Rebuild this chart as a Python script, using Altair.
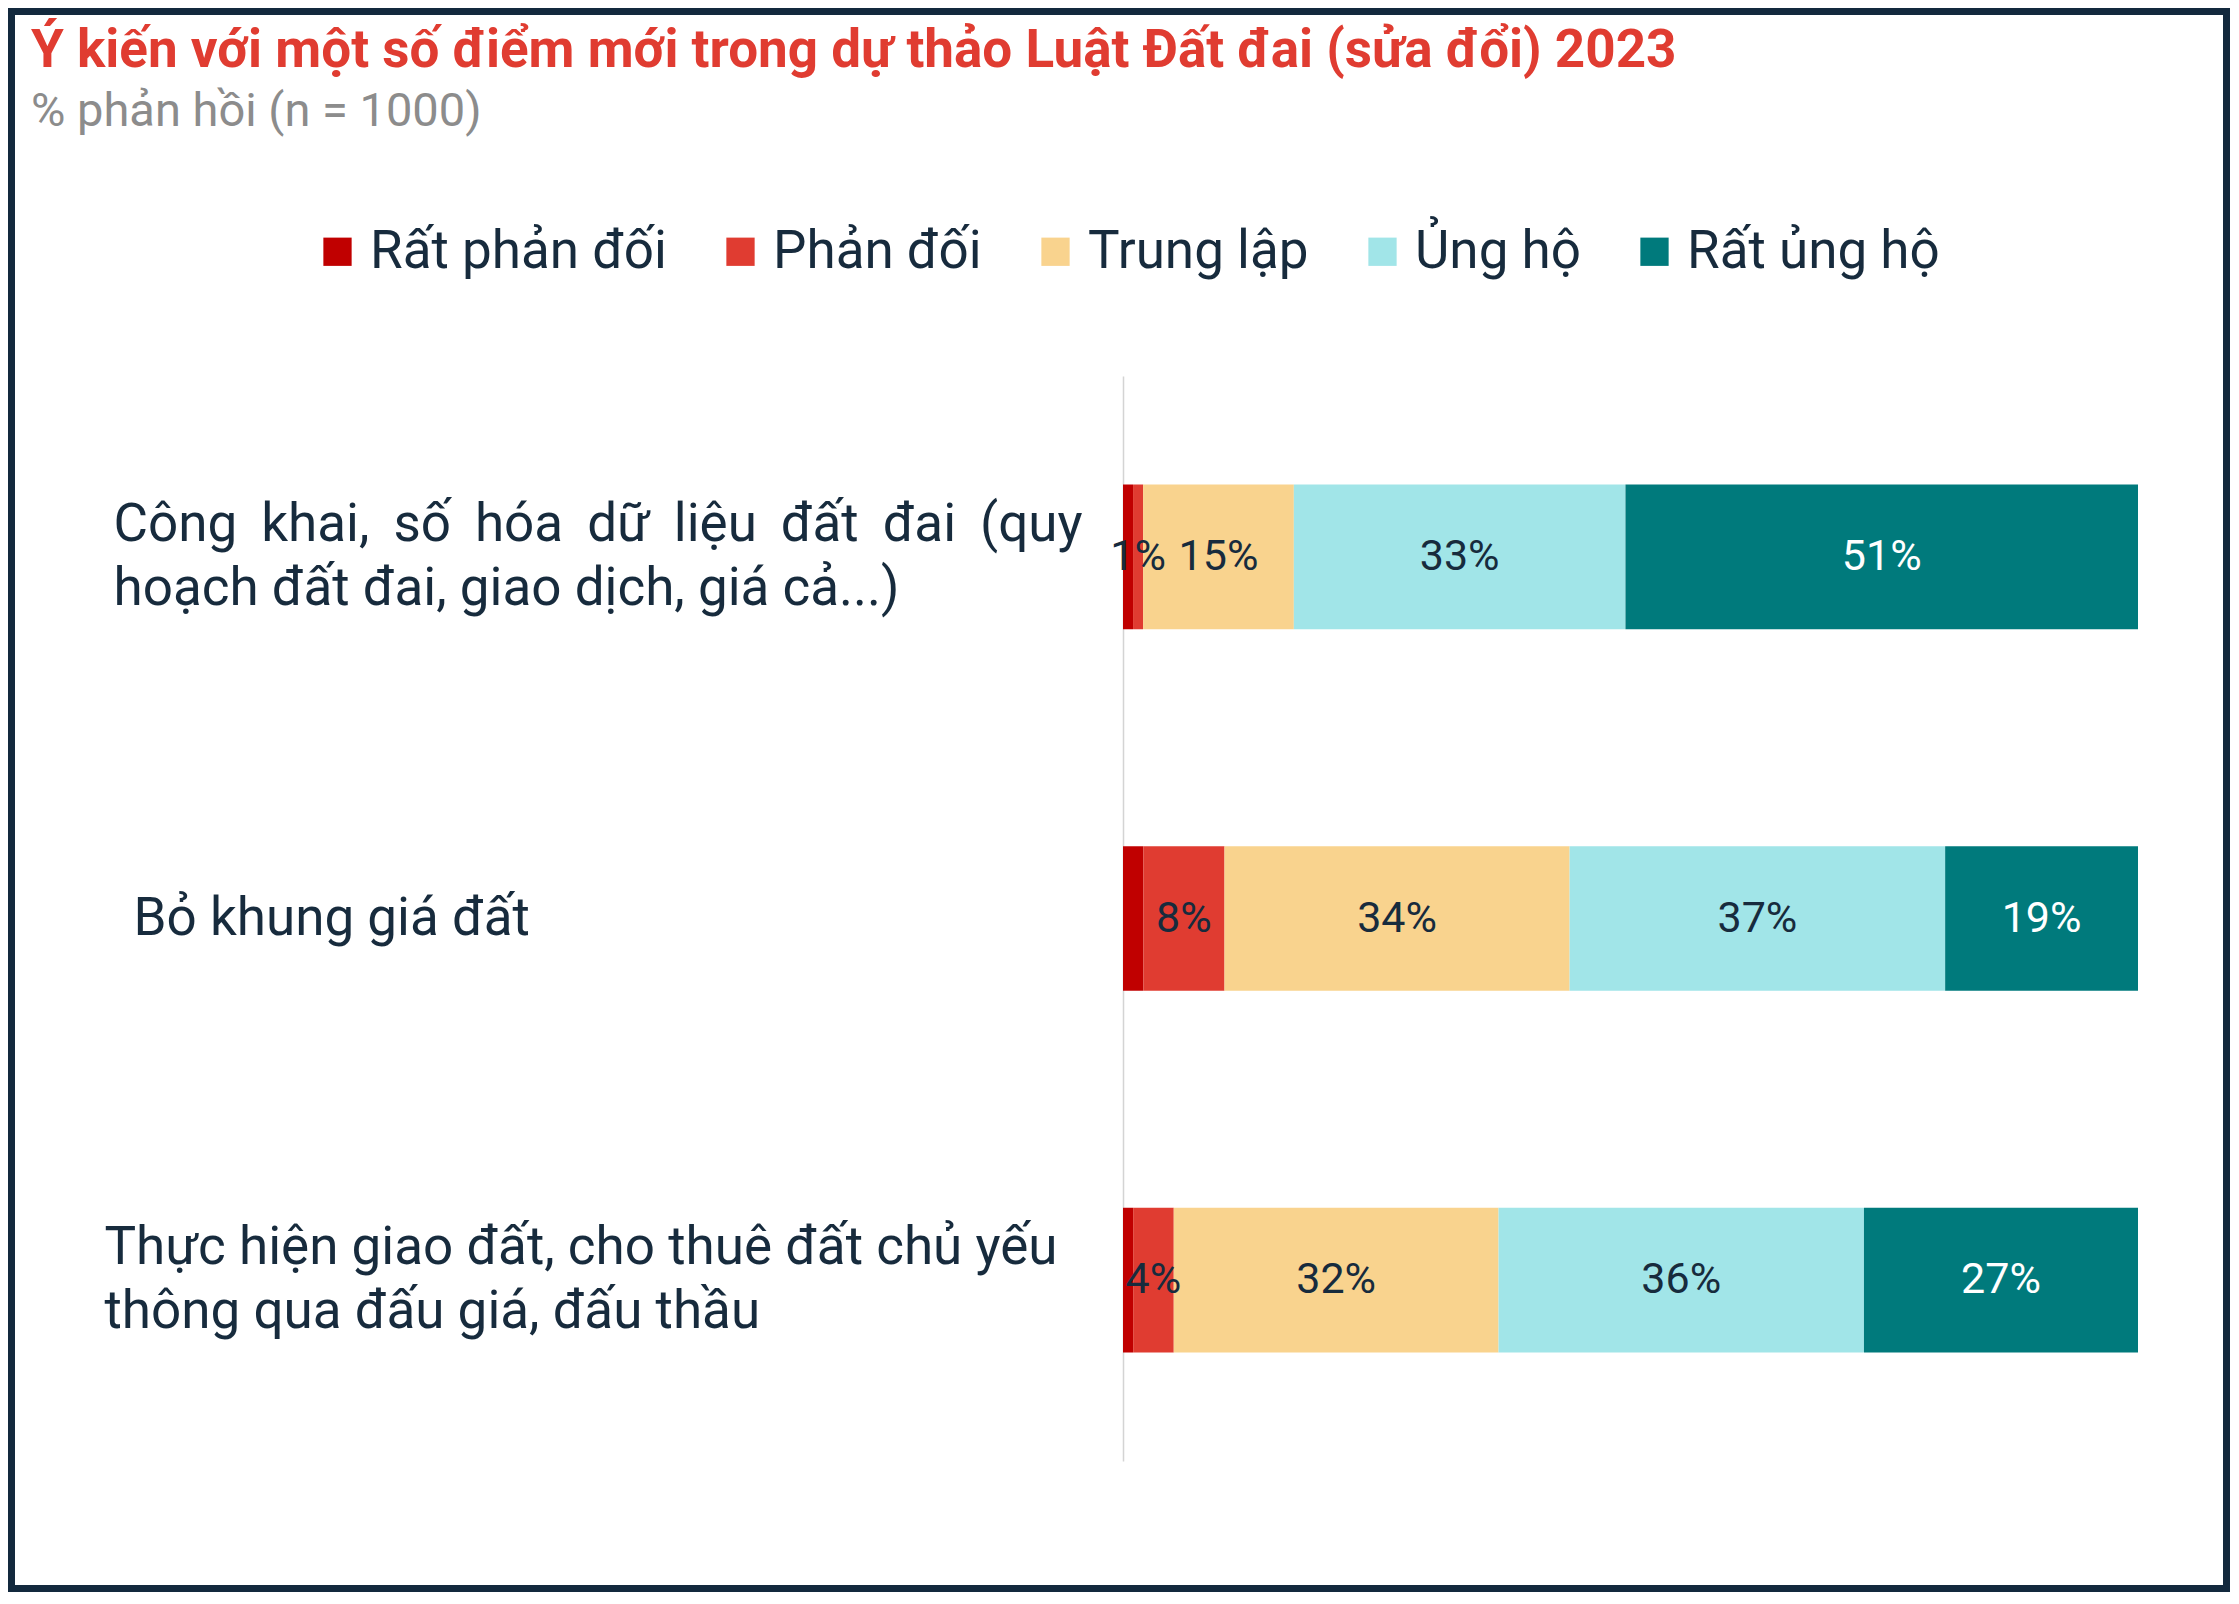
import altair as alt
import pandas as pd

# ---- data ----
items = [
    "Công khai, số hóa dữ liệu đất đai (quy\nhoạch đất đai, giao dịch, giá cả...)",
    "Bỏ khung giá đất",
    "Thực hiện giao đất, cho thuê đất chủ yếu\nthông qua đấu giá, đấu thầu",
]
series = ["Rất phản đối", "Phản đối", "Trung lập", "Ủng hộ", "Rất ủng hộ"]
rat_phan_doi = [1, 2, 1]
phan_doi = [1, 8, 4]
trung_lap = [15, 34, 32]
ung_ho = [33, 37, 36]
rat_ung_ho = [51, 19, 27]
colors = ["#c00000", "#e03c31", "#f9d38e", "#a1e5e8", "#007a7c"]

values = [rat_phan_doi, phan_doi, trung_lap, ung_ho, rat_ung_ho]
rows = []
for si, (s, vals) in enumerate(zip(series, values)):
    for it, v in zip(items, vals):
        rows.append({"item": it, "series": s, "order": si, "value": v})
df = pd.DataFrame(rows)

NAVY = "#172b3d"
W, H = 1015, 1085
PAD = {"left": 1115, "top": 368, "right": 92, "bottom": 131}

# first label's first line is justified in the original: widen its word gaps
label_expr = (
    "indexof(datum.label, 'Công khai') === 0 ? "
    "[replace(split(datum.label, '\\n')[0], regexp(' ', 'g'), ' \u2009'), split(datum.label, '\\n')[1]] : "
    "split(datum.label, '\\n')"
)

y_enc = alt.Y(
    "item:N",
    sort=items,
    title=None,
    scale=alt.Scale(paddingInner=0.6, paddingOuter=0.3),
    axis=alt.Axis(
        labelExpr=label_expr,
        labelAlign="left",
        labelBaseline="middle",
        labelFont="Roboto",
        labelFontSize=53,
        labelLineHeight=64,
        labelColor=NAVY,
        labelLimit=1100,
        labelPadding={
            "condition": [
                {"test": f"datum.value === '{items[1]}'", "value": 990},
                {"test": "indexof(datum.value, 'Thực hiện') === 0", "value": 1019},
            ],
            "value": 1010,
        },
        labelOffset={
            "condition": {"test": "indexof(datum.value, '\\n') >= 0", "value": -32},
            "value": 0,
        },
        ticks=False,
        tickSize=0,
        domainColor="#d4d4d4",
        domainWidth=1.5,
        grid=False,
    ),
)

base = alt.Chart(df).transform_stack(
    stack="value",
    groupby=["item"],
    as_=["x0", "x1"],
    offset="normalize",
    sort=[alt.SortField("order", "ascending")],
)

bars = base.mark_bar().encode(
    y=y_enc,
    x=alt.X("x0:Q", scale=alt.Scale(domain=[0, 1], nice=False, zero=True), axis=None),
    x2="x1:Q",
    color=alt.Color(
        "series:N",
        scale=alt.Scale(domain=series, range=colors),
        legend=alt.Legend(
            title=None,
            orient="none",
            legendX=-812,
            legendY=-151,
            direction="horizontal",
            symbolType="square",
            symbolSize=800,
            symbolStrokeWidth=0,
            labelFont="Roboto",
            labelFontSize=53,
            labelColor=NAVY,
            labelOffset=6,
            columnPadding=47,
            labelLimit=600,
        ),
    ),
    order=alt.Order("order:Q"),
)

labels = base.transform_filter(alt.datum.series != "Rất phản đối").transform_calculate(
    mid="(datum.x0 + datum.x1) / 2",
    label="datum.value + '%'",
).mark_text(font="Roboto", fontSize=43, baseline="middle", align="center").encode(
    y=y_enc,
    x=alt.X("mid:Q"),
    text="label:N",
    color=alt.condition(alt.datum.series == "Rất ủng hộ", alt.value("white"), alt.value(NAVY)),
)

border = alt.Chart(pd.DataFrame({"a": [0]})).mark_rect(
    fillOpacity=0, stroke="#13293d", strokeWidth=7
).encode(
    x=alt.value(-PAD["left"] + 3.5),
    x2=alt.value(W + PAD["right"] - 3.5),
    y=alt.value(-PAD["top"] + 3.5),
    y2=alt.value(H + PAD["bottom"] - 3.5),
)

chart = alt.layer(bars, labels, border).properties(
    width=W,
    height=H,
    autosize=alt.AutoSizeParams(type="none"),
    padding=PAD,
    title=alt.Title(
        text="Ý kiến với một số điểm mới trong dự thảo Luật Đất đai (sửa đổi) 2023",
        subtitle="% phản hồi (n = 1000)",
        anchor="start",
        frame="group",
        offset=0,
        dx=-1092,
        dy=127,
        font="Roboto",
        fontSize=53,
        fontWeight="bold",
        color="#e03c31",
        subtitleFont="Roboto",
        subtitleFontSize=47,
        subtitleColor="#8c8c8c",
        subtitlePadding=11,
    ),
    background="white",
).configure_view(strokeWidth=0)

chart.save("out.html", embed_options={"renderer": "svg", "actions": False})
